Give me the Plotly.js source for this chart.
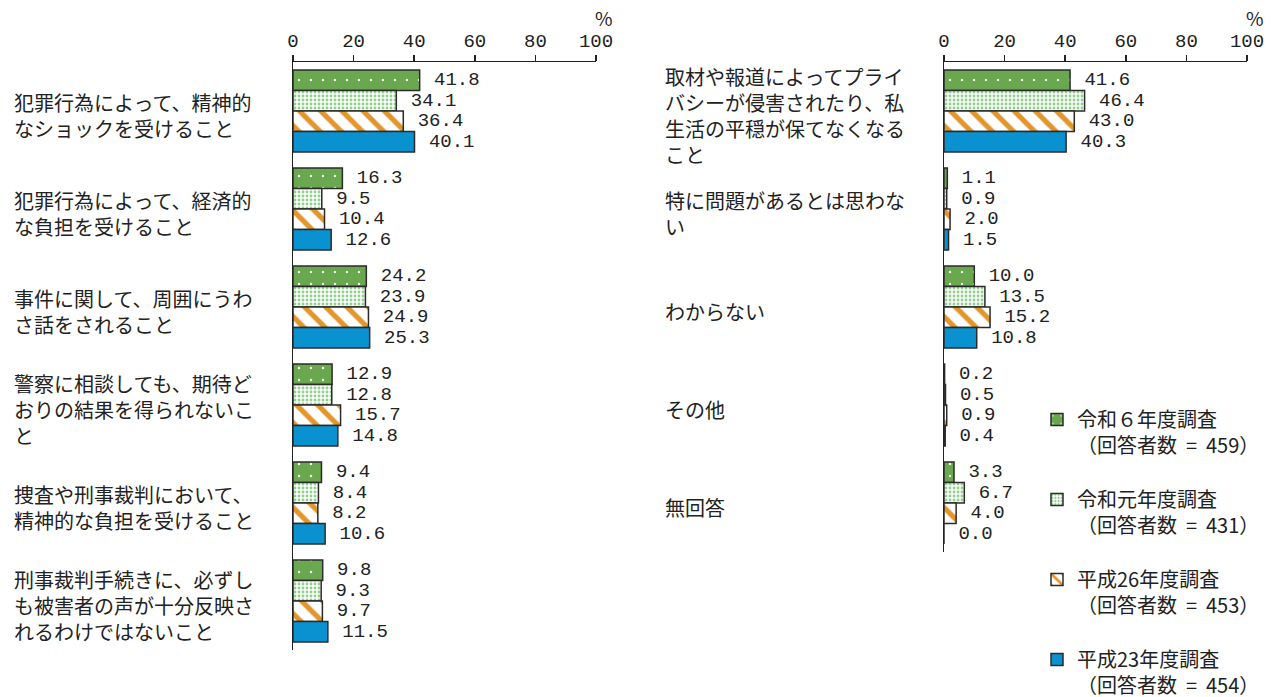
<!DOCTYPE html>
<html>
<head>
<meta charset="utf-8">
<script src="https://cdn.plot.ly/plotly-3.0.1.min.js"></script>
<style>html,body{margin:0;padding:0;background:#fff;}#chart{width:1276px;height:697px;}</style>
</head>
<body>
<div id="chart"></div>
<script>
// Categories
const leftCats = [
  '犯罪行為によって、精神的<br>なショックを受けること',
  '犯罪行為によって、経済的<br>な負担を受けること',
  '事件に関して、周囲にうわ<br>さ話をされること',
  '警察に相談しても、期待ど<br>おりの結果を得られないこ<br>と',
  '捜査や刑事裁判において、<br>精神的な負担を受けること',
  '刑事裁判手続きに、必ずし<br>も被害者の声が十分反映さ<br>れるわけではないこと'
];
const rightCats = [
  '取材や報道によってプライ<br>バシーが侵害されたり、私<br>生活の平穏が保てなくなる<br>こと',
  '特に問題があるとは思わな<br>い',
  'わからない',
  'その他',
  '無回答'
];
// Series names
const seriesNames = [
  '令和６年度調査<br>（回答者数\u00a0\u00a0=\u00a0\u00a0459）',
  '令和元年度調査<br>（回答者数\u00a0\u00a0=\u00a0\u00a0431）',
  '平成26年度調査<br>（回答者数\u00a0\u00a0=\u00a0\u00a0453）',
  '平成23年度調査<br>（回答者数\u00a0\u00a0=\u00a0\u00a0454）'
];
// Left panel values (%)
const r6Left  = [41.8, 16.3, 24.2, 12.9, 9.4, 9.8];
const r1Left  = [34.1, 9.5, 23.9, 12.8, 8.4, 9.3];
const h26Left = [36.4, 10.4, 24.9, 15.7, 8.2, 9.7];
const h23Left = [40.1, 12.6, 25.3, 14.8, 10.6, 11.5];
// Right panel values (%)
const r6Right  = [41.6, 1.1, 10.0, 0.2, 3.3];
const r1Right  = [46.4, 0.9, 13.5, 0.5, 6.7];
const h26Right = [43.0, 2.0, 15.2, 0.9, 4.0];
const h23Right = [40.3, 1.5, 10.8, 0.4, 0.0];
// Axis ticks
const tickVals = [0, 20, 40, 60, 80, 100];

const W = 1276, H = 697;
const outline = {color: '#2b2b2b', width: 1.5};
const markers = [
  {color: '#6aa84f', line: outline, pattern: {shape: '.', fgcolor: '#ffffff', bgcolor: '#6aa84f', size: 12, solidity: 0.03, fillmode: 'replace'}},
  {color: '#ffffff', line: outline, pattern: {shape: '.', fgcolor: '#8fd08a', bgcolor: '#ffffff', size: 4, solidity: 0.4, fillmode: 'replace'}},
  {color: '#ffffff', line: outline, pattern: {shape: '\\', fgcolor: '#e2962c', bgcolor: '#ffffff', size: 15, solidity: 0.35, fillmode: 'replace'}},
  {color: '#0a92d0', line: outline}
];
const numFamily = 'Liberation Mono, DejaVu Sans Mono, monospace';
const valFont = {family: numFamily, size: 19, color: '#222'};

function mk(vals, cats, i, xa, ya, showLeg) {
  return {
    type: 'bar', orientation: 'h',
    x: vals, y: cats,
    name: seriesNames[i],
    legendgroup: 'g' + i,
    showlegend: showLeg,
    marker: markers[i],
    text: vals.map(v => '\u00a0' + v.toFixed(1)),
    textposition: 'outside',
    textfont: valFont,
    outsidetextfont: valFont,
    constraintext: 'none',
    cliponaxis: false,
    hoverinfo: 'skip',
    xaxis: xa, yaxis: ya
  };
}
const leftSeries = [r6Left, r1Left, h26Left, h23Left];
const rightSeries = [r6Right, r1Right, h26Right, h23Right];
const data = [];
leftSeries.forEach((s, i) => data.push(mk(s, leftCats, i, 'x', 'y', true)));
rightSeries.forEach((s, i) => data.push(mk(s, rightCats, i, 'x2', 'y2', false)));

const axisX = (domain, anchor) => ({
  domain: domain, anchor: anchor, side: 'top', range: [0, 100],
  tickvals: tickVals, ticks: 'outside', ticklen: 6, tickwidth: 1.5, tickcolor: '#222',
  showline: true, linecolor: '#222', linewidth: 1.5,
  showgrid: false, zeroline: false, fixedrange: true,
  tickfont: {family: numFamily, size: 19, color: '#222'}
});
const axisY = (domain, anchor, n) => ({
  domain: domain, anchor: anchor, type: 'category', range: [n - 0.5, -0.5],
  showline: true, linecolor: '#222', linewidth: 1.5, ticks: '',
  showticklabels: false, showgrid: false, zeroline: false, fixedrange: true
});

const topY = 1 - 62 / H;
const annotations = [];
leftCats.forEach(c => annotations.push({
  xref: 'paper', yref: 'y', x: 12 / W, y: c, xanchor: 'left', yanchor: 'middle',
  align: 'left', text: c, showarrow: false, yshift: -4,
  font: {family: 'Noto Sans CJK JP', size: 20, color: '#222'}
}));
rightCats.forEach(c => annotations.push({
  xref: 'paper', yref: 'y2', x: 663 / W, y: c, xanchor: 'left', yanchor: 'middle',
  align: 'left', text: c, showarrow: false, yshift: -4,
  font: {family: 'Noto Sans CJK JP', size: 20, color: '#222'}
}));
['x', 'x2'].forEach(xr => annotations.push({
  xref: xr, yref: 'paper', x: 100, y: 1 - 17 / H, xanchor: 'center', yanchor: 'middle',
  xshift: 8, text: '%', showarrow: false,
  font: {family: 'Noto Sans CJK JP', size: 19, color: '#222'}
}));

const layout = {
  width: W, height: H, autosize: false,
  margin: {l: 0, r: 0, t: 0, b: 0, autoexpand: false},
  paper_bgcolor: '#fff', plot_bgcolor: 'rgba(0,0,0,0)',
  barmode: 'group', bargap: 0.163, bargroupgap: 0,
  showlegend: true,
  legend: {
    x: 1037 / W, y: 1 - 400 / H, xanchor: 'left', yanchor: 'top',
    traceorder: 'grouped', tracegroupgap: 25, valign: 'top',
    font: {family: 'Noto Sans CJK JP', size: 20, color: '#222'},
    bgcolor: 'rgba(0,0,0,0)'
  },
  xaxis: axisX([293 / W, 596 / W], 'y'),
  yaxis: axisY([1 - 650 / H, topY], 'x', leftCats.length),
  xaxis2: axisX([944 / W, 1247 / W], 'y2'),
  yaxis2: axisY([1 - 552 / H, topY], 'x2', rightCats.length),
  annotations: annotations
};
Plotly.newPlot('chart', data, layout, {displayModeBar: false, staticPlot: true});
</script>
</body>
</html>
